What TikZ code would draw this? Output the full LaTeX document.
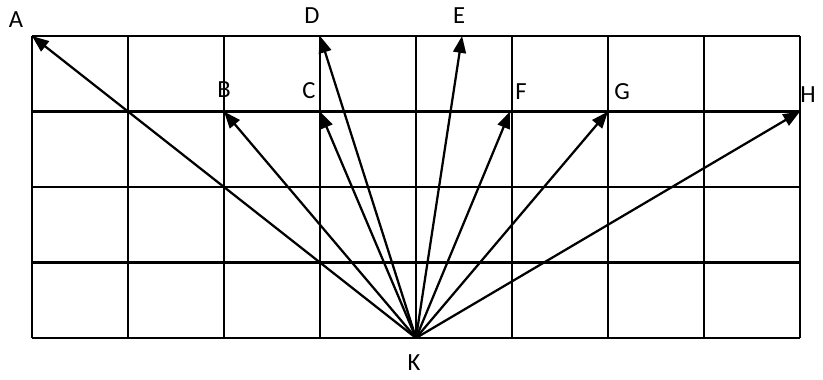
\documentclass[tikz,border=0pt]{standalone}
\usepackage{fontspec}
\setmainfont{Carlito}
\usetikzlibrary{arrows.meta, positioning}
\tikzset{
	gridline/.style={line width=1.7pt, draw=black},
	vec/.style={-{Triangle[length=0.42cm, width=0.32cm]}, line width=1.6pt, draw=black},
	ptlabel/.style={inner sep=0pt, font=\fontsize{17.5}{20}\selectfont}
}
\begin{document}
\begin{tikzpicture}[x=2.4cm, y=1.8875cm]
	\useasboundingbox (-0.3333,-0.543) rectangle (8.2396,4.477);
	\draw[gridline, xstep=2.4cm, ystep=1.8875cm] (0,0) grid (8,4);
	% tips
	\coordinate (K) at (4,0);
	\coordinate (A) at (0,4);
	\coordinate (B) at (2,3);
	\coordinate (C) at (3,3);
	\coordinate (D) at (3,4);
	\coordinate (E) at (4.48,4);
	\coordinate (F) at (4.98,3);
	\coordinate (G) at (6,3);
	\coordinate (H) at (8,3);
	% labels
	\node[ptlabel] (labA) at (-0.167,4.212) {A};
	\node[ptlabel] (labB) at (2.0,3.285) {B};
	\node[ptlabel] (labC) at (2.885,3.272) {C};
	\node[ptlabel] (labD) at (2.917,4.265) {D};
	\node[ptlabel] (labE) at (4.448,4.265) {E};
	\node[ptlabel] (labF) at (5.094,3.258) {F};
	\node[ptlabel] (labG) at (6.146,3.258) {G};
	\node[ptlabel] (labH) at (8.083,3.219) {H};
	\node[ptlabel] (labK) at (3.979,-0.331) {K};
	\draw[vec] (K) -- (A);
	\draw[vec] (K) -- (B);
	\draw[vec] (K) -- (C);
	\draw[vec] (K) -- (D);
	\draw[vec] (K) -- (E);
	\draw[vec] (K) -- (F);
	\draw[vec] (K) -- (G);
	\draw[vec] (K) -- (H);
\end{tikzpicture}
\end{document}
